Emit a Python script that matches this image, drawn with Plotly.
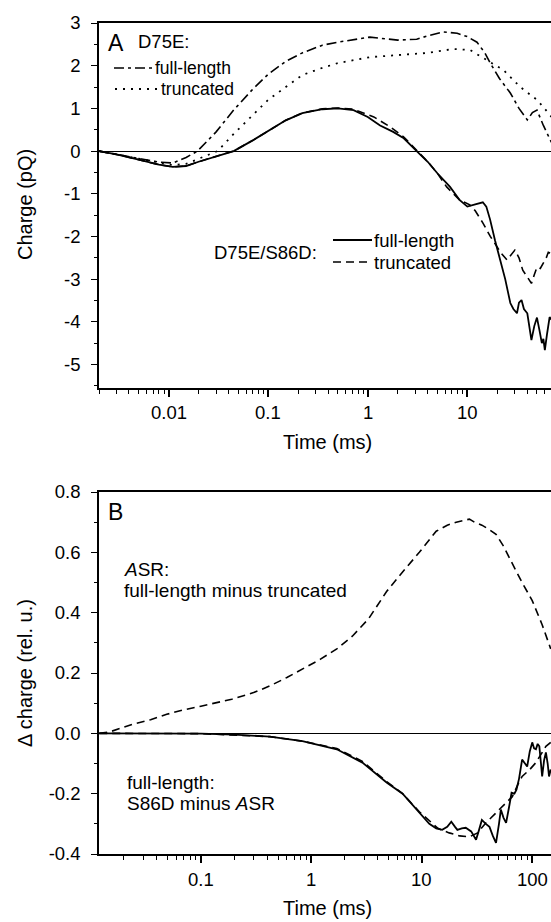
import math
import plotly.graph_objects as go

W, H = 551, 922

# ---------------- Panel A data ----------------
tA_fl = [0.002,0.003,0.005,0.008,0.011,0.015,0.0195,0.03,0.045,0.07,0.1,0.15,0.22,0.35,0.5,0.75,1.05,1.5,2,3.1,4,5.7,7.9,10,12.5,15,17,21,27,33,40,45,50,58,67,70]
qA_fl = [0,-0.08,-0.18,-0.26,-0.28,-0.15,0,0.45,0.96,1.45,1.8,2.1,2.3,2.48,2.55,2.62,2.67,2.63,2.6,2.62,2.7,2.79,2.76,2.68,2.55,2.3,2.06,1.7,1.36,1.0,0.73,0.9,0.96,0.6,0.26,0.2]

tA_tr = [0.002,0.003,0.005,0.008,0.011,0.015,0.02,0.031,0.045,0.07,0.1,0.15,0.22,0.35,0.5,1.05,2.3,4,7.2,10.6,15.7,23,34,50,58,67,70]
qA_tr = [0,-0.08,-0.18,-0.28,-0.33,-0.3,-0.18,0,0.4,0.85,1.2,1.5,1.78,1.95,2.06,2.2,2.25,2.3,2.39,2.37,2.13,1.9,1.5,1.2,1.03,0.84,0.8]

tS_fl = [0.002,0.003,0.005,0.008,0.011,0.015,0.02,0.03,0.045,0.07,0.105,0.15,0.22,0.35,0.5,0.72,1.0,1.33,1.8,2.3,3.1,4,5,6.7,8.4,10,12,14.3,15.5,16.9,19,21,24,27,29,31.5,33,35,37,40,42,44,47,50,53,56,58,60,63,67,70]
qS_fl = [0,-0.08,-0.2,-0.32,-0.37,-0.35,-0.25,-0.13,0,0.25,0.5,0.72,0.89,0.98,1.0,0.96,0.8,0.6,0.45,0.3,0.0,-0.25,-0.52,-0.84,-1.15,-1.3,-1.25,-1.2,-1.3,-1.6,-2.1,-2.48,-3.0,-3.56,-3.7,-3.8,-3.55,-3.49,-3.7,-3.8,-4.1,-4.43,-4.1,-3.9,-4.2,-4.5,-4.4,-4.66,-4.3,-3.89,-3.95]

tS_tr = [0.002,0.003,0.005,0.008,0.011,0.015,0.02,0.03,0.045,0.07,0.105,0.15,0.22,0.35,0.5,0.72,1.15,1.67,2.3,3.1,4,5,6.2,8.4,10.6,12,14.3,17,19.7,22,25,27,30,33,36,40,44,47,50,54,58,62,65,70]
qS_tr = [0,-0.08,-0.2,-0.32,-0.37,-0.35,-0.25,-0.13,0,0.25,0.5,0.72,0.89,0.99,1.01,0.98,0.8,0.57,0.33,0.02,-0.25,-0.52,-0.84,-1.15,-1.26,-1.4,-1.68,-2.0,-2.24,-2.4,-2.55,-2.45,-2.32,-2.5,-2.79,-2.95,-3.1,-2.9,-2.72,-2.75,-2.62,-2.5,-2.37,-2.4]

# ---------------- Panel B data ----------------
tB_asr = [0.012,0.015,0.024,0.035,0.049,0.07,0.1,0.19,0.3,0.42,0.6,0.83,1.2,1.7,2.35,3.3,4.8,6.7,9.5,13.5,17,20.5,24,27,30,35,41,47,55,62,71,81,100,123,147]
dB_asr = [0,0.005,0.03,0.045,0.063,0.078,0.09,0.113,0.135,0.157,0.185,0.213,0.245,0.28,0.322,0.38,0.47,0.535,0.6,0.67,0.69,0.70,0.705,0.71,0.7,0.69,0.675,0.66,0.62,0.58,0.54,0.50,0.44,0.36,0.28]

tB_fl = [0.012,0.05,0.1,0.2,0.42,0.83,1.7,2.9,4.8,6.7,9.5,11.7,13.5,15.3,17,18.5,20,21,23,25,28,31,33,35,38,41,44,47,50,52,55,58,62,65,69,72,76,81,86,90,95,100,104,108,112,116,120,123,128,133,138,142,147]
dB_fl = [0,0,-0.001,-0.004,-0.011,-0.026,-0.053,-0.097,-0.163,-0.2,-0.263,-0.3,-0.315,-0.32,-0.31,-0.293,-0.31,-0.32,-0.315,-0.313,-0.325,-0.353,-0.32,-0.287,-0.3,-0.31,-0.34,-0.363,-0.3,-0.253,-0.28,-0.297,-0.24,-0.197,-0.2,-0.187,-0.15,-0.087,-0.1,-0.11,-0.06,-0.03,-0.05,-0.053,-0.035,-0.043,-0.1,-0.143,-0.09,-0.063,-0.1,-0.143,-0.12]

tB_tr = [0.012,0.1,0.42,0.83,1.7,2.9,4.8,6.7,9.5,11.7,14,17.7,22,27,32,38,45,53,60,66,74,81,95,108,120,133,147]
dB_tr = [0,-0.001,-0.011,-0.026,-0.05,-0.093,-0.16,-0.2,-0.26,-0.29,-0.315,-0.33,-0.34,-0.343,-0.33,-0.297,-0.27,-0.243,-0.225,-0.21,-0.17,-0.143,-0.12,-0.097,-0.07,-0.043,-0.03]

xtickA = [0.01, 0.1, 1, 10]
xtextA = ["0.01", "0.1", "1", "10"]
xtickB = [0.1, 1, 10, 100]
xtextB = ["0.1", "1", "10", "100"]
ytickA = [-5, -4, -3, -2, -1, 0, 1, 2, 3]
ytextA = ["-5", "-4", "-3", "-2", "-1", "0", "1", "2", "3"]
ytickB = [-0.4, -0.2, 0.0, 0.2, 0.4, 0.6, 0.8]
ytextB = ["-0.4", "-0.2", "0.0", "0.2", "0.4", "0.6", "0.8"]

FONT = "Liberation Sans, Arial, sans-serif"
K = "black"

def px(x):
    return x / W

def py(y):
    return 1 - y / H

fig = go.Figure()

def line(x, y, dash, xa, ya, width=1.8):
    fig.add_trace(go.Scatter(x=x, y=y, mode="lines", xaxis=xa, yaxis=ya,
                             line=dict(color=K, width=width, dash=dash),
                             showlegend=False, hoverinfo="skip"))

DASHDOT = "10px,4px,3px,4px"
DOT = "2px,6px"
DASH = "8px,5px"

line(tA_fl, qA_fl, DASHDOT, "x", "y", 1.6)
line(tA_tr, qA_tr, DOT, "x", "y", 1.8)
line(tS_tr, qS_tr, DASH, "x", "y", 1.6)
line(tS_fl, qS_fl, "solid", "x", "y", 1.8)

line(tB_asr, dB_asr, DASH, "x2", "y2", 1.6)
line(tB_tr, dB_tr, DASH, "x2", "y2", 1.6)
line(tB_fl, dB_fl, "solid", "x2", "y2", 1.8)

tickfont = dict(family=FONT, size=18.5, color=K)
minor_log = [m * 10.0 ** e for e in range(-3, 3) for m in range(2, 10)]

def xax(rng, tv):
    return dict(type="log", range=rng, domain=[px(99), 1], showline=True, linecolor=K,
                linewidth=1.5, mirror=True, ticks="outside", ticklen=7, tickwidth=1.5,
                tickcolor=K, tickvals=tv, showticklabels=False, showgrid=False,
                zeroline=False,
                minor=dict(ticks="outside", ticklen=4.5, tickwidth=1.2, tickcolor=K,
                           tickvals=minor_log, showgrid=False))

def yax(rng, top, bot, tv, tt, mdtick):
    return dict(range=rng, domain=[py(bot), py(top)], showline=True, linecolor=K,
                linewidth=1.5, mirror=False, ticks="outside", ticklen=6, tickwidth=1.3,
                tickcolor=K, tickmode="array", tickvals=tv, ticktext=tt, tickfont=tickfont,
                showgrid=False, zeroline=True, zerolinecolor=K, zerolinewidth=1.3,
                automargin=False, ticklabelstandoff=7,
                minor=dict(ticks="outside", ticklen=3.5, tickwidth=1, tickcolor=K,
                           dtick=mdtick, tick0=0, showgrid=False))

rA = [-2.699, 1.84]
rB = [-1.923, 2.17]
fig.update_layout(
    width=W, height=H, margin=dict(l=0, r=0, t=0, b=0),
    paper_bgcolor="white", plot_bgcolor="white", showlegend=False,
    xaxis=dict(xax(rA, xtickA), anchor="y"),
    yaxis=dict(yax([-5.55, 3], 23, 388, ytickA, ytextA, 0.5), anchor="x"),
    xaxis2=dict(xax(rB, xtickB), anchor="y2"),
    yaxis2=dict(yax([-0.4, 0.8], 492, 854, ytickB, ytextB, 0.1), anchor="x2"),
)

# x tick labels placed on the log axes' own scale
for v, s in zip(xtickA, xtextA):
    fig.add_annotation(x=math.log10(v), xref="x", y=py(412), yref="paper", text=s,
                       showarrow=False, xanchor="center", yanchor="middle",
                       font=tickfont)
for v, s in zip(xtickB, xtextB):
    fig.add_annotation(x=math.log10(v), xref="x2", y=py(879), yref="paper", text=s,
                       showarrow=False, xanchor="center", yanchor="middle",
                       font=tickfont)

def text(x, y, s, size=17, anchor="left", angle=0):
    fig.add_annotation(x=px(x), y=py(y), xref="paper", yref="paper", text=s,
                       showarrow=False, xanchor=anchor, yanchor="middle", textangle=angle,
                       font=dict(family=FONT, size=size, color=K))

def seg(x0, x1, y, dash, width=1.6):
    fig.add_shape(type="line", xref="paper", yref="paper", x0=px(x0), x1=px(x1),
                  y0=py(y), y1=py(y), line=dict(color=K, width=width, dash=dash))

# axis titles
text(327, 442, "Time (ms)", 20, "center")
text(327, 908, "Time (ms)", 20, "center")
text(25, 205, "Charge (pQ)", 20, "center", -90)
text(25, 673, "\u0394 charge (rel. u.)", 20, "center", -90)

# panel A labels
text(106, 43, "A", 23)
text(136, 42, "D75E:", 18.5)
seg(114, 152, 68, DASHDOT)
text(153, 68, "full-length", 17.5)
seg(115, 158, 89, DOT, 1.8)
text(159, 89, "truncated", 17.5)

text(212, 252, "D75E/S86D:", 18.5)
seg(333, 372, 240, "solid", 1.8)
text(372, 240, "full-length", 18.5)
seg(333, 372, 262, DASH)
text(372, 262, "truncated", 18.5)

# panel B labels
text(106, 512, "B", 23)
text(122, 569, "<i>A</i>SR:", 19)
text(122, 590, "full-length minus truncated", 19)
text(125, 782, "full-length:", 19)
text(125, 803, "S86D minus <i>A</i>SR", 19)

fig.write_html("out.html")
